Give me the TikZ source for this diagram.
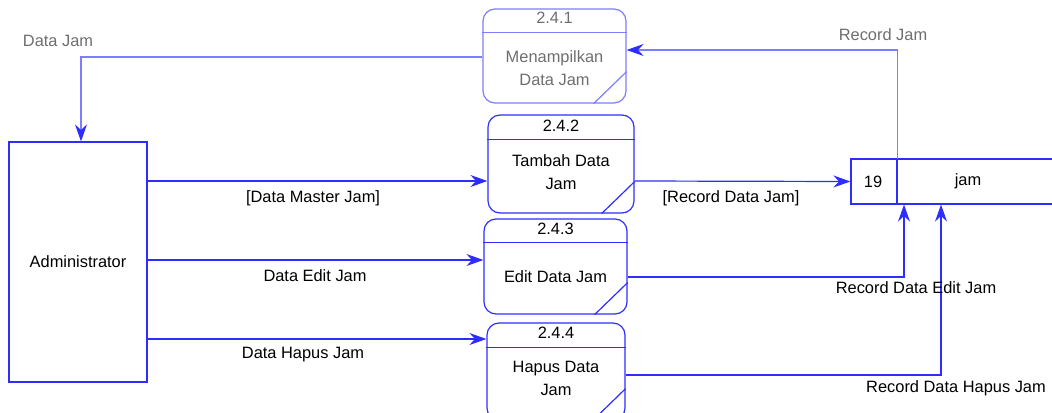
\documentclass[tikz,border=0pt]{standalone}
\usepackage{fontspec}
\setmainfont{Liberation Sans}
\usetikzlibrary{arrows.meta,calc}
\definecolor{ln}{RGB}{45,45,255}
\definecolor{lnf}{RGB}{125,125,255}
\definecolor{txf}{RGB}{110,110,110}
\tikzset{
  lbl/.style={font=\fontsize{8.2pt}{11.5pt}\selectfont, text=black, inner sep=0pt, align=center},
  lblf/.style={lbl, text=txf},
  proc/.style={draw=ln, line width=0.6pt, rounded corners=6pt, inner sep=0pt},
  procf/.style={proc, draw=lnf},
  flow/.style={draw=ln, line width=0.6pt, -{Stealth[length=8.5pt,width=6pt,inset=2.8pt]}},
  flowf/.style={draw=lnf, line width=0.6pt, -{Stealth[length=8.5pt,width=6pt,inset=2.8pt,color=ln]}},
  boxe/.style={draw=ln, line width=0.6pt, inner sep=0pt},
}
\begin{document}
\begin{tikzpicture}[x=0.5pt,y=-0.5pt]
\useasboundingbox (0,0) rectangle (1052,412);
\clip (0,0) rectangle (1052,412);
% Administrator
\node[boxe, minimum width=69pt, minimum height=120pt] (adm) at (78,262) {};
\node[lbl] (admt) at (adm.center) {Administrator};
% processes
\node[procf, minimum width=71.5pt, minimum height=47pt] (p1) at (554.5,56) {};
\node[proc, minimum width=73pt, minimum height=49pt] (p2) at (561,164) {};
\node[proc, minimum width=71.5pt, minimum height=47.5pt] (p3) at (555.5,266.5) {};
\node[proc, minimum width=69pt, minimum height=48.5pt] (p4) at (556,371.5) {};
% headers & diagonals
\draw[lnf, line width=0.6pt] ($(p1.north west)+(0,24)$) -- ($(p1.north east)+(0,24)$);
\draw[lnf, line width=0.6pt] ($(p1.south east)+(-33,0)$) -- ($(p1.south east)+(0,-32)$);
\draw[ln, line width=0.6pt] ($(p2.north west)+(0,25)$) -- ($(p2.north east)+(0,25)$);
\draw[ln, line width=0.6pt] ($(p2.south east)+(-33,0)$) -- ($(p2.south east)+(0,-32)$);
\draw[ln, line width=0.6pt] ($(p3.north west)+(0,24)$) -- ($(p3.north east)+(0,24)$);
\draw[ln, line width=0.6pt] ($(p3.south east)+(-33,0)$) -- ($(p3.south east)+(0,-32)$);
\draw[ln, line width=0.6pt] ($(p4.north west)+(0,25)$) -- ($(p4.north east)+(0,25)$);
\draw[ln, line width=0.6pt] ($(p4.south east)+(-33,0)$) -- ($(p4.south east)+(0,-32)$);
% process texts
\node[lblf] (p1n) at (554.5,18) {2.4.1};
\node[lblf] (p1t) at (554.5,68.5) {Menampilkan\\Data Jam};
\node[lbl] (p2n) at (561,126) {2.4.2};
\node[lbl] (p2t) at (561,172.5) {Tambah Data\\Jam};
\node[lbl] (p3n) at (555.5,229) {2.4.3};
\node[lbl] (p3t) at (555.5,277) {Edit Data Jam};
\node[lbl] (p4n) at (556,333) {2.4.4};
\node[lbl] (p4t) at (556,378.5) {Hapus Data\\Jam};
% data store
\node[boxe, minimum width=23pt, minimum height=22.5pt] (sid) at (874,181.5) {};
\node[boxe, minimum width=82pt, minimum height=22.5pt] (snm) at (979,181.5) {};
\node[lbl] (sidt) at (873,181.5) {19};
\node[lbl] (snmt) at (968,181.5) {jam};
% coordinates
\coordinate (c1) at (81,57);
\coordinate (c2) at (898,50);
\coordinate (c3) at (904,277);
\coordinate (c4) at (941,375);
% flows
\draw[flowf] (p1.west |- c1) -- (c1) -- (adm.north -| c1);
\draw[flowf] (snm.north west |- 0,159) ++(1,0) coordinate (s0) -- (s0 |- c2) -- (p1.east |- c2);
\draw[flow] (adm.east |- 0,181) -- (p2.west |- 0,181);
\draw[flow] (p2.east |- 0,181) -- (sid.west);
\draw[flow] (adm.east |- 0,260) -- (p3.west |- 0,260);
\draw[flow] (p3.east |- c3) -- (c3) -- (snm.south -| c3);
\draw[flow] (adm.east |- 0,339) -- (p4.west |- 0,339);
\draw[flow] (p4.east |- c4) -- (c4) -- (snm.south -| c4);
% flow labels
\node[lblf] (l1) at (58,41) {Data Jam};
\node[lblf] (l2) at (883,35) {Record Jam};
\node[lbl] (l3) at (313,198) {[Data Master Jam]};
\node[lbl] (l4) at (731,198) {[Record Data Jam]};
\node[lbl] (l5) at (315,276) {Data Edit Jam};
\node[lbl] (l6) at (916,288) {Record Data Edit Jam};
\node[lbl] (l7) at (303,355) {Data Hapus Jam};
\node[lbl] (l8) at (956,388) {Record Data Hapus Jam};
\end{tikzpicture}
\end{document}
